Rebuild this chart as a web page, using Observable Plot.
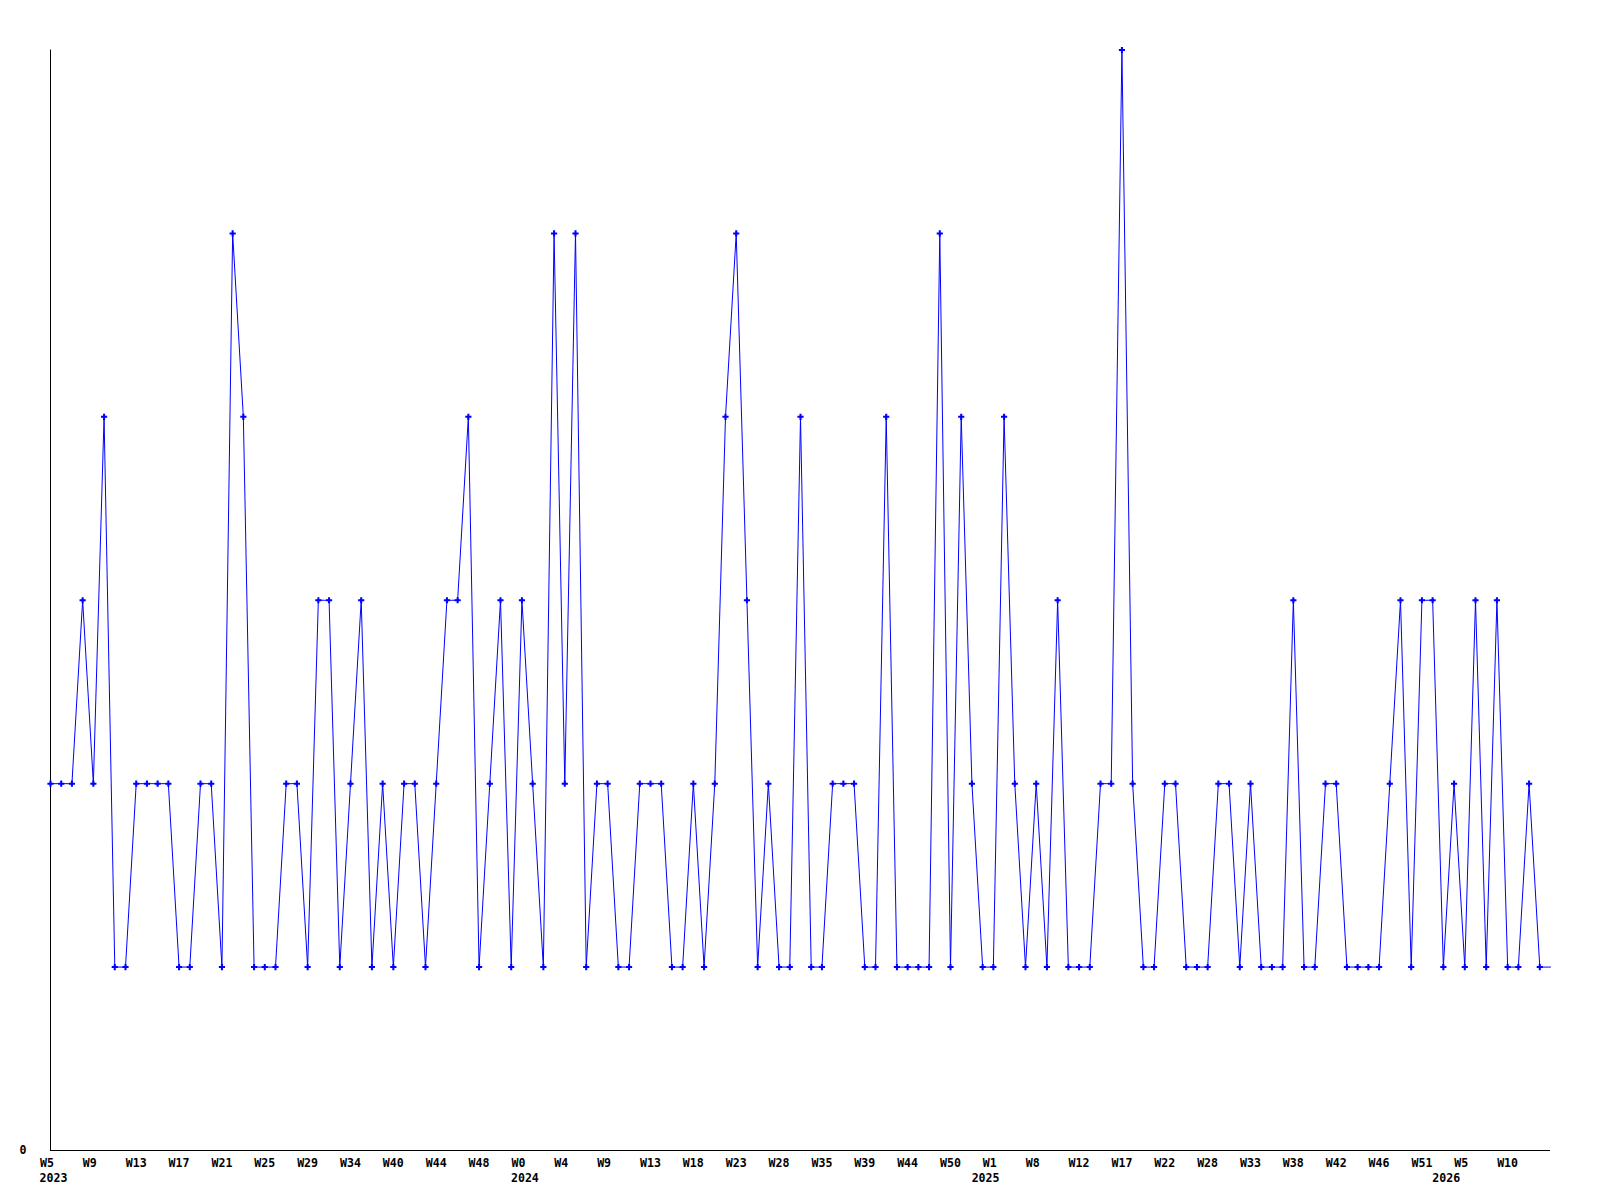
<!DOCTYPE html>
<html>
<head>
<meta charset="utf-8">
<script src="https://cdn.jsdelivr.net/npm/d3@7"></script>
<script src="https://cdn.jsdelivr.net/npm/@observablehq/plot@0.6"></script>
<style>
  html, body { margin: 0; padding: 0; background: #ffffff; }
  #chart svg { display: block; }
</style>
</head>
<body>
<div id="chart"></div>
<script>
// Week numbers of the weeks that have data, per year (weeks without data are absent)
const weeks2023 = [5,6,7,8,9,10,11,12,13,14,15,16,17,18,19,20,21,22,23,24,25,26,27,28,29,30,31,32,34,35,36,38,40,41,42,43,44,45,46,47,48,49,50,52];
const weeks2024 = [0,1,2,3,4,5,6,7,9,10,11,12,13,14,15,17,18,19,20,22,23,24,25,27,28,30,32,34,35,36,37,38,39,40,42,43,44,45,47,48,50,51,52];
const weeks2025 = [0,1,3,5,6,8,9,10,11,12,13,15,16,17,18,19,20,22,23,25,26,28,29,30,32,33,34,35,36,38,39,40,41,42,43,44,45,46,47,48,50,51,52];
const weeks2026 = [0,2,5,6,7,8,10,11,12,13,14];

// Weekly counts, in the same order as the weeks above (last week is still open)
const counts = [
  2,2,2,3,2, 4,1,1,2,2, 2,2,1,1,2, 2,1,5,4,1, 1,1,2,2,1, 3,3,1,2,3,
  1,2,1,2,2, 1,2,3,3,4, 1,2,3,1,3, 2,1,5,2,5, 1,2,2,1,1, 2,2,2,1,1,
  2,1,2,4,5, 3,1,2,1,1, 4,1,1,2,2, 2,1,1,4,1, 1,1,1,5,1, 4,2,1,1,4,
  2,1,2,1,3, 1,1,1,2,2, 6,2,1,1,2, 2,1,1,1,2, 2,1,2,1,1, 1,3,1,1,2,
  2,1,1,1,1, 2,3,1,3,3, 1,2,1,3,1, 3,1,1,2,1, 1
];

const yTickValues = [0];
const labelEvery = 4;

// Build the table
const rows = [];
[[2023, weeks2023], [2024, weeks2024], [2025, weeks2025], [2026, weeks2026]]
  .forEach(([year, ws]) => ws.forEach(week => rows.push({year, week})));
rows.forEach((r, i) => { r.i = i; r.count = counts[i]; });

const closed = rows.slice(0, -1); // the open, current week gets no marker and no label
const weekTicks = closed.filter(d => d.i % labelEvery === 0);
const yearStarts = closed.filter((d, i) => i === 0 || rows[i - 1].year !== d.year);

const font = "'DejaVu Sans Mono', 'Liberation Mono', monospace";
const blue = "#0000ff";

const chart = Plot.plot({
  width: 1600,
  height: 1200,
  marginLeft: 50,
  marginRight: 50,
  marginTop: 49.5,
  marginBottom: 50,
  style: {background: "#ffffff", fontFamily: font},
  x: {domain: [0, rows.length - 1], axis: null},
  y: {domain: [0, 6], axis: null},
  marks: [
    Plot.ruleX([0], {stroke: "black", strokeWidth: 1}),
    Plot.ruleY([0], {stroke: "black", strokeWidth: 1}),
    Plot.line(rows, {x: "i", y: "count", stroke: blue, strokeWidth: 1}),
    Plot.dot(closed, {x: "i", y: "count", symbol: "cross", r: 2.6, fill: blue, stroke: "none"}),
    Plot.text(yTickValues, {
      x: () => 0, y: d => d, text: d => String(d),
      textAnchor: "start", lineAnchor: "bottom", dx: -31, dy: 3.5,
      fontFamily: font, fontWeight: "bold", fontSize: 11.6, fill: "black"
    }),
    Plot.text(weekTicks, {
      x: "i", y: () => 0, text: d => "W" + d.week,
      textAnchor: "start", lineAnchor: "bottom", dx: -10.5, dy: 16,
      fontFamily: font, fontWeight: "bold", fontSize: 11.6, fill: "black"
    }),
    Plot.text(yearStarts, {
      x: "i", y: () => 0, text: d => String(d.year),
      textAnchor: "start", lineAnchor: "bottom", dx: -11, dy: 31,
      fontFamily: font, fontWeight: "bold", fontSize: 11.6, fill: "black"
    })
  ]
});

document.getElementById("chart").appendChild(chart);
</script>
</body>
</html>
